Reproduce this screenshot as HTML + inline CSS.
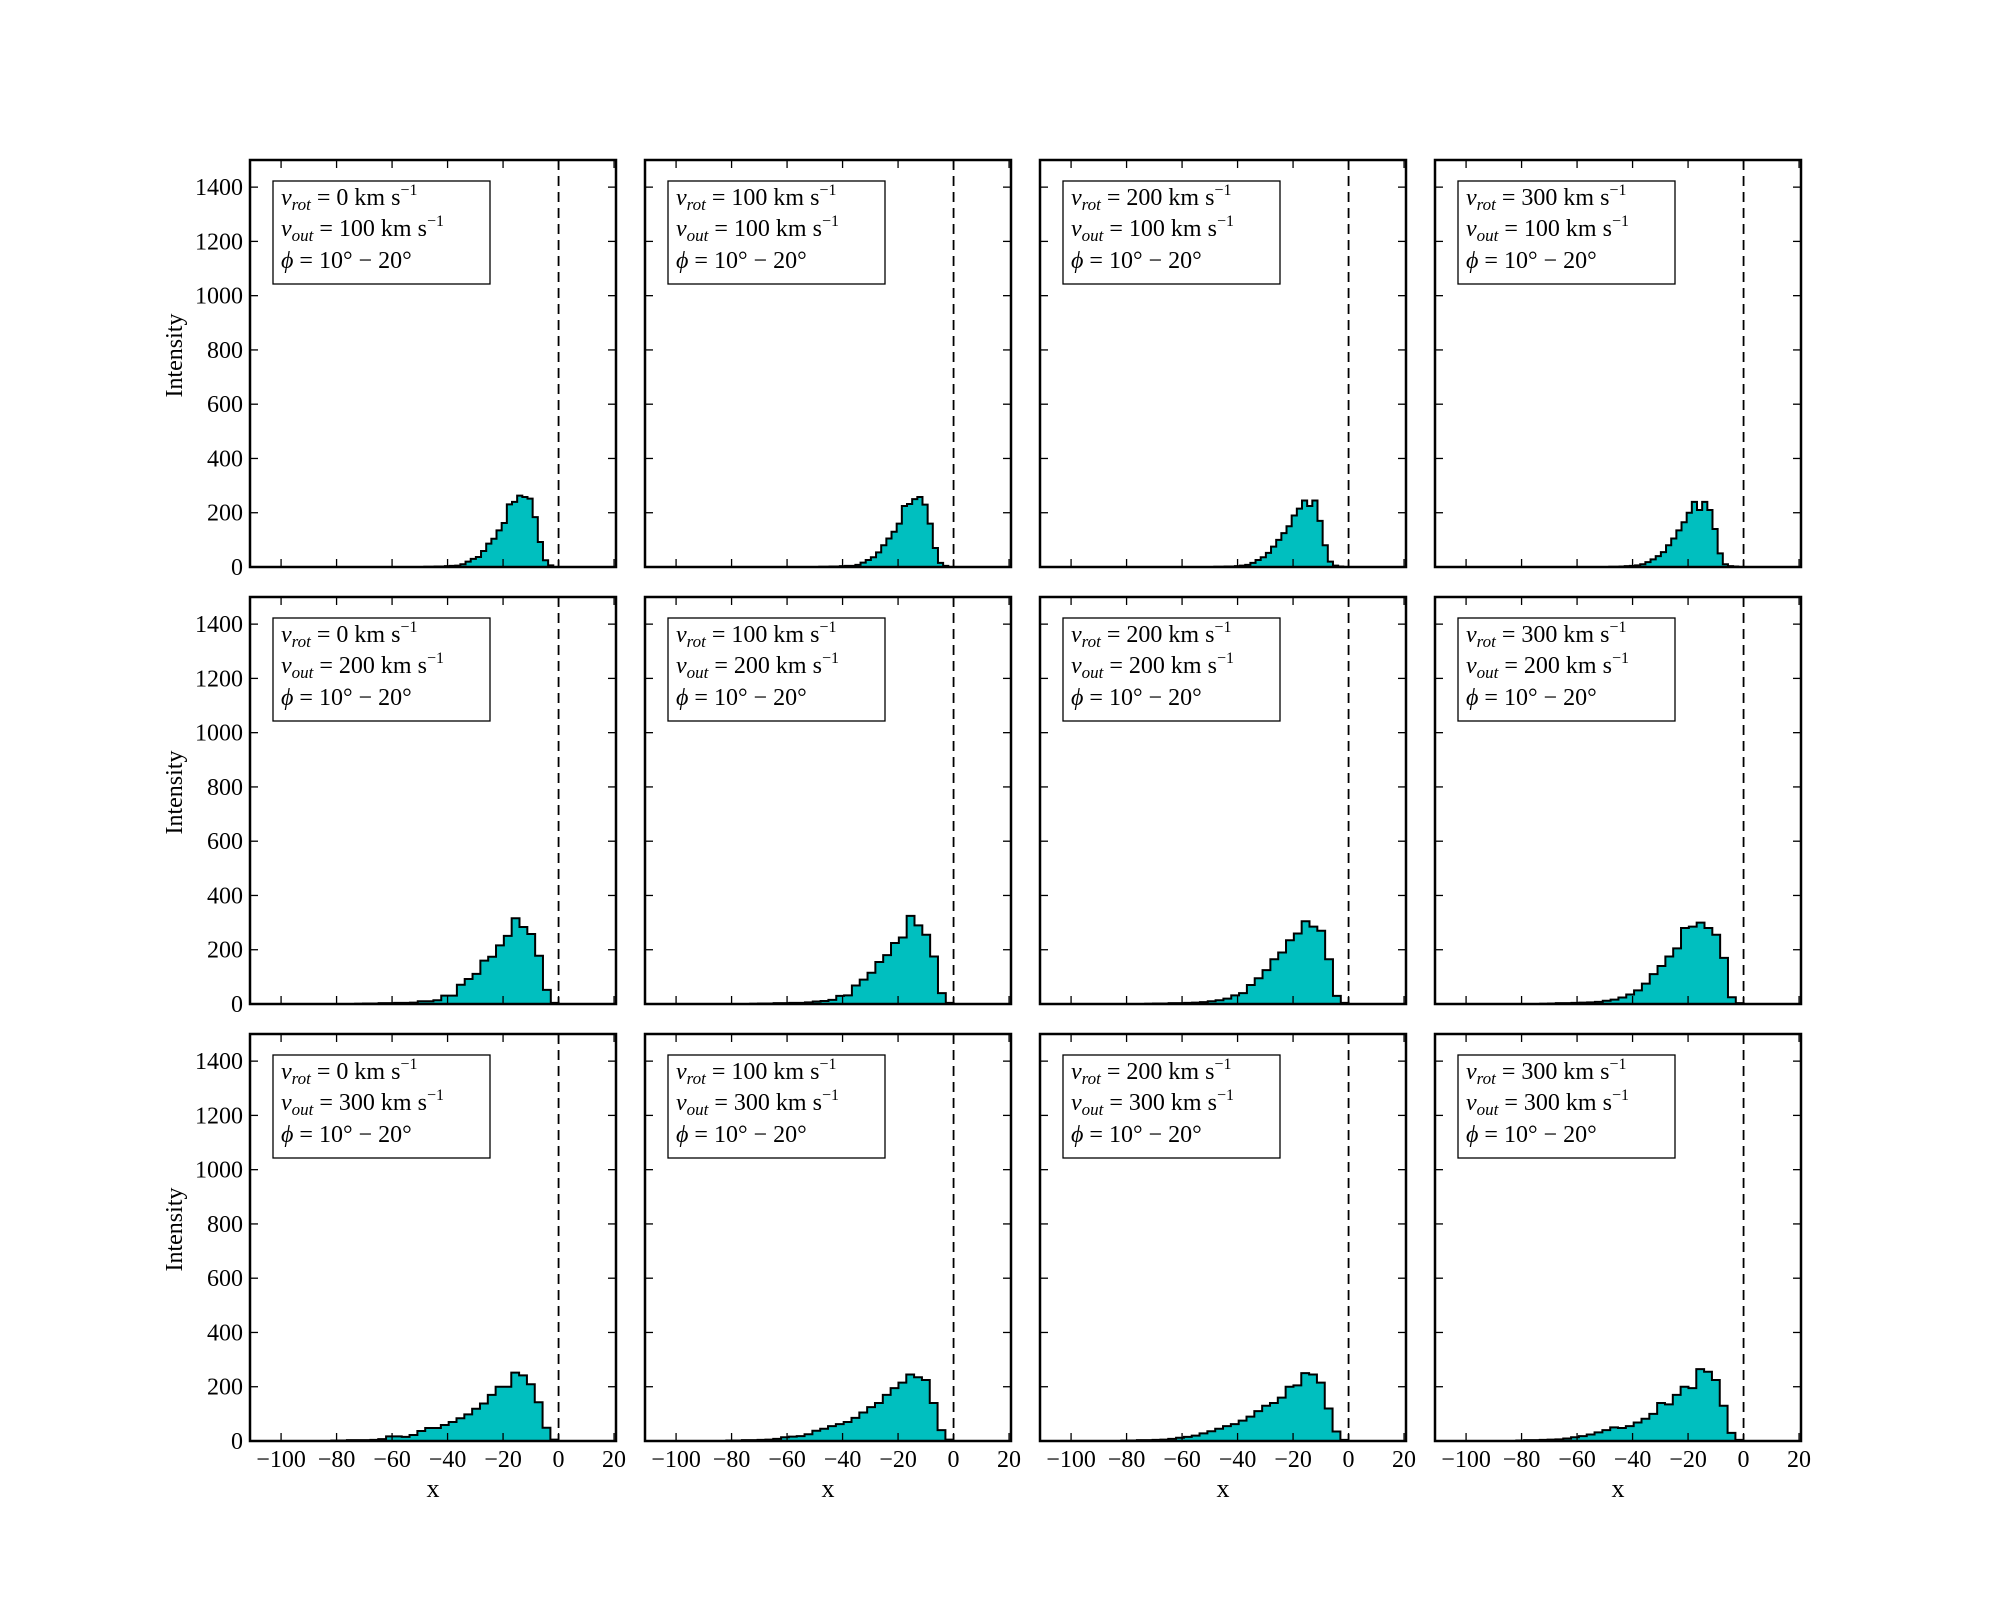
<!DOCTYPE html>
<html><head><meta charset="utf-8">
<style>
html,body{margin:0;padding:0;background:#fff;}
svg{display:block;}
text{font-family:"Liberation Serif","DejaVu Serif",serif;fill:#000;}
</style></head>
<body>
<svg id="fig" width="2000" height="1600" viewBox="0 0 2000 1600" xmlns="http://www.w3.org/2000/svg"></svg>
<script>
// ---- data ----
const vrotValues = [0, 100, 200, 300];
const voutValues = [100, 200, 300];
const xTicks = [-100, -80, -60, -40, -20, 0, 20];
const yTicks = [0, 200, 400, 600, 800, 1000, 1200, 1400];
const binStarts = [-48.4, -73.3, -81.9];
const binWidths = [1.86, 2.82, 2.82];
const countsR1C1 = [1,1,2,2,3,4,5,10,20,30,37,59,86,104,135,162,231,240,263,258,252,184,92,25,6];
const countsR1C2 = [1,1,2,2,3,4,4,8,16,26,36,54,80,105,130,160,225,232,250,258,230,160,70,15,4];
const countsR1C3 = [1,1,2,2,3,5,8,15,26,36,52,75,100,125,150,190,215,245,225,245,170,80,20,5,2];
const countsR1C4 = [1,1,2,3,4,6,10,18,28,40,55,80,105,135,165,200,240,210,240,210,140,50,10,3,2];
const countsR2C1 = [1,2,2,3,3,4,4,5,10,10,14,31,31,71,92,111,160,174,216,251,316,284,258,178,52,4];
const countsR2C2 = [1,2,2,3,3,4,4,6,9,11,15,30,32,68,90,115,155,180,225,245,325,290,255,175,40,4];
const countsR2C3 = [1,2,2,3,3,4,5,7,10,14,20,32,40,70,95,125,165,190,235,260,305,285,270,165,30,4];
const countsR2C4 = [1,2,3,3,4,5,6,8,12,16,24,35,50,75,110,140,175,205,280,285,300,280,255,170,25,3];
const countsR3C1 = [2,2,3,3,3,4,7,17,17,15,22,37,48,48,59,70,84,98,119,138,170,200,200,252,242,209,143,49,5];
const countsR3C2 = [2,2,3,3,4,5,8,14,16,18,25,38,45,55,62,70,85,105,125,140,170,195,215,245,235,225,140,40,5];
const countsR3C3 = [2,2,3,3,4,5,8,12,15,20,28,36,45,55,62,75,90,110,130,140,160,200,205,250,245,215,120,35,4];
const countsR3C4 = [2,3,3,4,5,6,9,14,18,24,32,40,50,48,55,68,82,100,140,135,170,200,195,265,255,225,130,30,4];
const allCounts = [
  [countsR1C1, countsR1C2, countsR1C3, countsR1C4],
  [countsR2C1, countsR2C2, countsR2C3, countsR2C4],
  [countsR3C1, countsR3C2, countsR3C3, countsR3C4]
];

// ---- layout ----
const NS = "http://www.w3.org/2000/svg";
const svg = document.getElementById('fig');
const colLeft = [250, 645, 1040, 1435];
const rowTop = [160, 597, 1034];
const PW = 366, PH = 407;
const XMIN = -111.2, XMAX = 20.7, YMIN = 0, YMAX = 1500;

function mk(tag, attrs, parent) {
  const e = document.createElementNS(NS, tag);
  for (const k in attrs) e.setAttribute(k, attrs[k]);
  (parent || svg).appendChild(e);
  return e;
}
function fmt(v) { return v < 0 ? '\u2212' + Math.abs(v) : String(v); }

for (let r = 0; r < 3; r++) {
  for (let c = 0; c < 4; c++) {
    const L = colLeft[c], T = rowTop[r];
    const sx = v => L + (v - XMIN) / (XMAX - XMIN) * PW;
    const sy = v => T + PH - (v - YMIN) / (YMAX - YMIN) * PH;
    const g = mk('g', {});
    
    

    const counts = allCounts[r][c];
    const x0 = binStarts[r], w = binWidths[r];
    let d = 'M' + sx(x0) + ',' + sy(0);
    counts.forEach((v, i) => {
      d += ' L' + sx(x0 + i * w) + ',' + sy(v) + ' L' + sx(x0 + (i + 1) * w) + ',' + sy(v);
    });
    d += ' L' + sx(x0 + counts.length * w) + ',' + sy(0) + ' Z';
    const hist = mk('path', {d: d, fill: '#00bfbf', stroke: '#000', 'stroke-width': 2, 'stroke-linejoin': 'miter'}, g);
    
    

    const zl = mk('line', {x1: sx(0), x2: sx(0), y1: T, y2: T + PH, stroke: '#000', 'stroke-width': 1.8, 'stroke-dasharray': '10,6'}, g);
    
    

    xTicks.forEach(t => {
      const x = sx(t);
      mk('line', {x1: x, x2: x, y1: T + PH, y2: T + PH - 8, stroke: '#000', 'stroke-width': 1.3}, g);
      mk('line', {x1: x, x2: x, y1: T, y2: T + 8, stroke: '#000', 'stroke-width': 1.3}, g);
      if (r === 2) {
        const tl = mk('text', {x: x, y: 1467, 'font-size': 24, 'text-anchor': 'middle'}, g);
        tl.textContent = fmt(t);
        
        
      }
    });
    yTicks.forEach(t => {
      const y = sy(t);
      mk('line', {x1: L, x2: L + 8, y1: y, y2: y, stroke: '#000', 'stroke-width': 1.3}, g);
      mk('line', {x1: L + PW, x2: L + PW - 8, y1: y, y2: y, stroke: '#000', 'stroke-width': 1.3}, g);
      if (c === 0) {
        const tl = mk('text', {x: 243, y: y + 8, 'font-size': 24, 'text-anchor': 'end'}, g);
        tl.textContent = fmt(t);
        
        
      }
    });

    const fr = mk('rect', {x: L, y: T, width: PW, height: PH, fill: 'none', stroke: '#000', 'stroke-width': 2.5}, g);
    
    

    const lg = mk('g', {}, g);
    
    
    mk('rect', {x: L + 23, y: T + 21, width: 217, height: 103, fill: '#fff', stroke: '#000', 'stroke-width': 1.3}, lg);
    const tx = L + 31;
    const t1 = mk('text', {x: tx, y: T + 45, 'font-size': 24}, lg);
    t1.innerHTML = '<tspan font-style="italic">v</tspan><tspan font-style="italic" font-size="17" dy="5">rot</tspan><tspan dy="-5"> = ' + vrotValues[c] + ' km s</tspan><tspan font-size="16" dy="-10">\u22121</tspan>';
    const t2 = mk('text', {x: tx, y: T + 76, 'font-size': 24}, lg);
    t2.innerHTML = '<tspan font-style="italic">v</tspan><tspan font-style="italic" font-size="17" dy="5">out</tspan><tspan dy="-5"> = ' + voutValues[r] + ' km s</tspan><tspan font-size="16" dy="-10">\u22121</tspan>';
    const t3 = mk('text', {x: tx, y: T + 108, 'font-size': 24}, lg);
    t3.innerHTML = '<tspan font-style="italic">\u03d5</tspan> = 10\u00b0 \u2212 20\u00b0';

    if (c === 0) {
      const yl = mk('text', {x: 0, y: 0, 'font-size': 24, 'text-anchor': 'middle', transform: 'translate(182,' + (T + PH / 2 - 8) + ') rotate(-90)'}, g);
      yl.textContent = 'Intensity';
      
      
    }
    if (r === 2) {
      const xl = mk('text', {x: L + PW / 2, y: 1497, 'font-size': 26, 'text-anchor': 'middle'}, g);
      xl.textContent = 'x';
      
      
    }
  }
}
</script>
</body></html>
